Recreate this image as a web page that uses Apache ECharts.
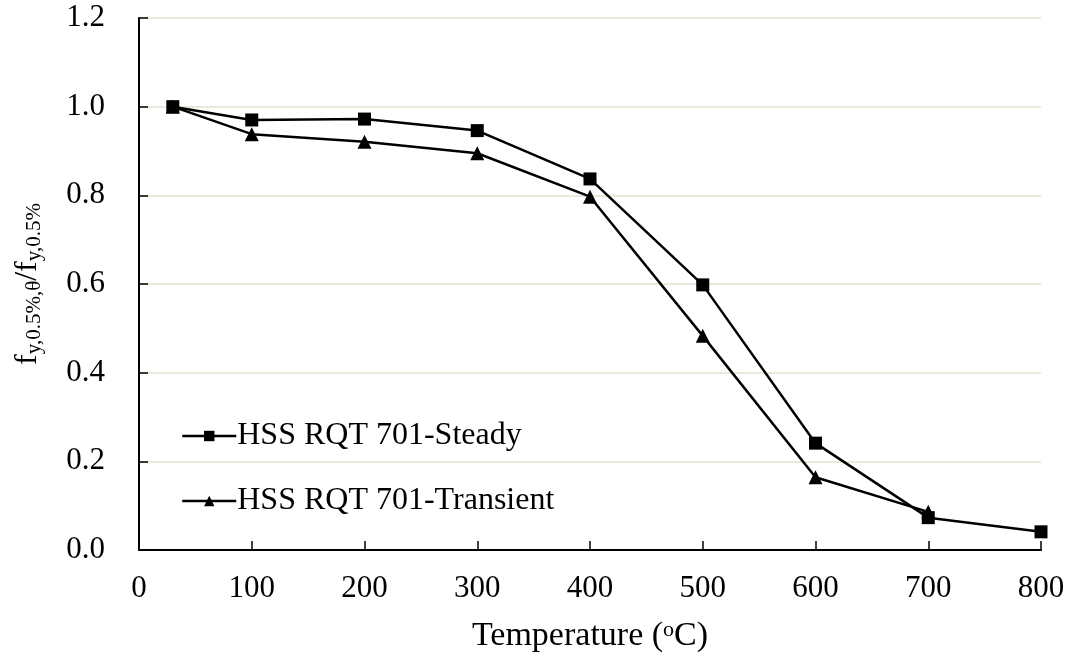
<!DOCTYPE html>
<html><head><meta charset="utf-8">
<script src="https://cdn.jsdelivr.net/npm/echarts@6/dist/echarts.min.js"></script>
<style>html,body{margin:0;padding:0;background:#fff}#c{width:1073px;height:664px}</style>
</head><body><div id="c"></div>
<script>
const temps = [30, 100, 200, 300, 400, 500, 600, 700, 800];
const steady = [1.0, 0.970, 0.972, 0.946, 0.837, 0.598, 0.241, 0.073, 0.041];
const transientTemps = [30, 100, 200, 300, 400, 500, 600, 700];
const transient = [1.0, 0.938, 0.921, 0.895, 0.797, 0.483, 0.164, 0.086];
const seriesNames = ['HSS RQT 701-Steady', 'HSS RQT 701-Transient'];

const font = 'Liberation Serif, Times New Roman, serif';
const chart = echarts.init(document.getElementById('c'));
chart.setOption({
  animation: false,
  backgroundColor: '#fff',
  grid: {left: 139, right: 32, top: 18, bottom: 114},
  legend: {
    orient: 'vertical', left: 176, top: 415, itemGap: 33, itemWidth: 54, itemHeight: 13,
    lineStyle: {width: 2.5},
    textStyle: {fontFamily: font, fontSize: 32, color: '#000', padding: [0,0,0,-4]},
    data: seriesNames
  },
  xAxis: {
    type: 'value', min: 0, max: 800, interval: 100,
    name: '{a|Temperature (}{s|o}{a|C)}', nameLocation: 'middle', nameGap: 69,
    nameTextStyle: {rich: {a: {fontFamily: font, fontSize: 34, color: '#000'}, s: {fontFamily: font, fontSize: 22, color: '#000', verticalAlign: 'top', padding: [0,0,10,0]}}},
    axisLine: {lineStyle: {color: '#000', width: 2}},
    axisTick: {inside: true, length: 9, lineStyle: {color: '#000', width: 1.5}},
    axisLabel: {fontFamily: font, fontSize: 31, color: '#000', margin: 23},
    splitLine: {show: false}
  },
  yAxis: {
    type: 'value', min: 0, max: 1.2, interval: 0.2,
    name: '{a|f}{s|y,0.5%,θ}{a|/f}{s|y,0.5%}', nameLocation: 'middle', nameGap: 94,
    nameTextStyle: {rich: {a: {fontFamily: font, fontSize: 32, color: '#000'}, s: {fontFamily: font, fontSize: 21, color: '#000', padding: [14,0,0,0]}}},
    axisLine: {show: true, lineStyle: {color: '#000', width: 2}},
    axisTick: {show: true, inside: true, length: 9, lineStyle: {color: '#000', width: 1.5}},
    axisLabel: {fontFamily: font, fontSize: 31, color: '#000', margin: 34, formatter: v => v.toFixed(1)},
    splitLine: {lineStyle: {color: '#eaeadc', width: 2}}
  },
  series: [
    {name: seriesNames[0], type: 'line', data: temps.map((t,i)=>[t, steady[i]]),
     symbol: 'rect', symbolSize: 13, itemStyle: {color: '#000'}, lineStyle: {color: '#000', width: 2.5}},
    {name: seriesNames[1], type: 'line', data: transientTemps.map((t,i)=>[t, transient[i]]),
     symbol: 'triangle', symbolSize: 14, itemStyle: {color: '#000'}, lineStyle: {color: '#000', width: 2.5}}
  ]
});
</script></body></html>
